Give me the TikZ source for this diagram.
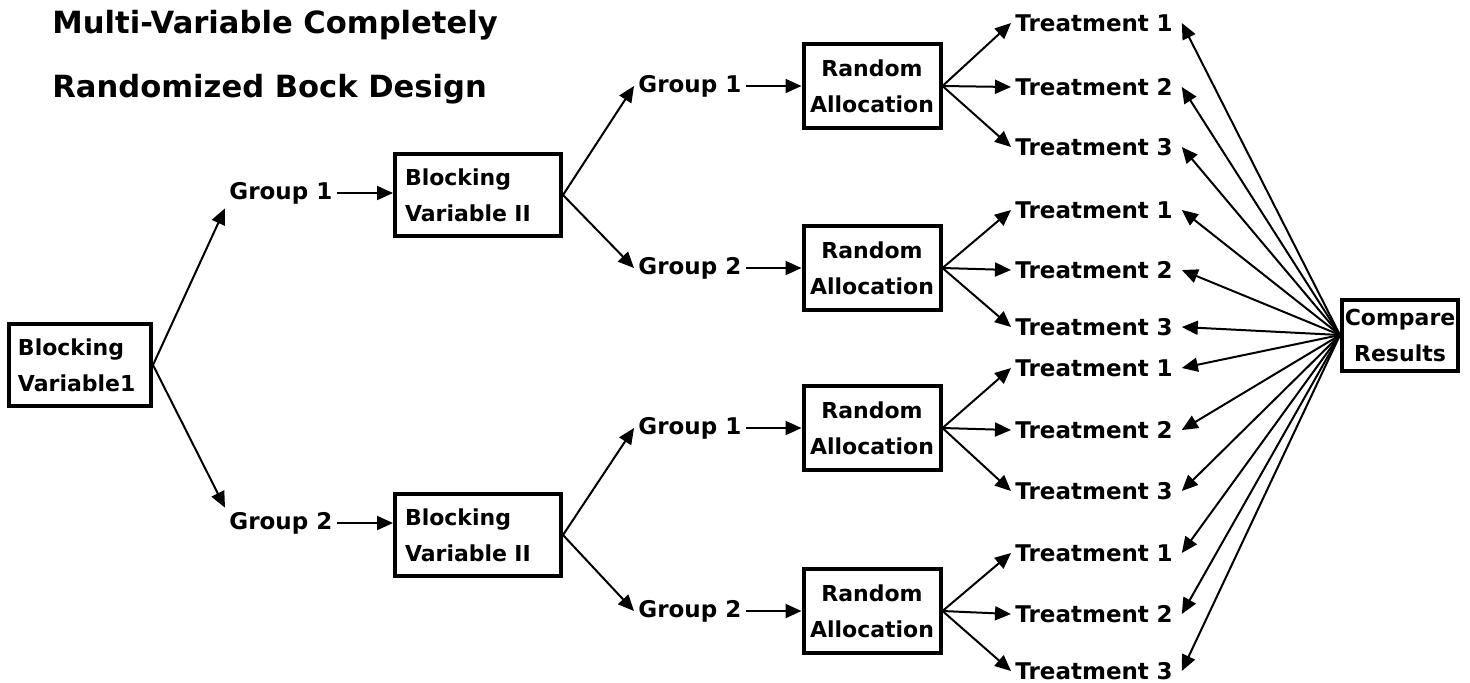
\documentclass[tikz,border=0pt]{standalone}
\usepackage{fontspec}
\setmainfont{DejaVu Sans}
\usepackage{tikz}
\usetikzlibrary{arrows.meta}

\newcommand\lblfont{\fontsize{11.5}{18}\selectfont\bfseries}
\newcommand\boxfont{\fontsize{11}{18}\selectfont\bfseries}
\newcommand\headfont{\fontsize{15.3}{18}\selectfont\bfseries}

\begin{document}
\begin{tikzpicture}[
  x=0.5pt, y=-0.5pt,
  >={Triangle[length=8pt, width=7pt]},
  every node/.style={font=\lblfont},
  head/.style={anchor=base west, inner sep=0pt, font=\headfont},
  blockbox/.style={draw, line width=2pt, align=left, minimum height=41pt,
                   inner ysep=0pt, font=\boxfont},
  randbox/.style={draw, line width=2pt, align=center, minimum width=68.5pt,
                  minimum height=42pt, inner sep=0pt, font=\boxfont},
  grp/.style={anchor=west, inner sep=2pt},
  treat/.style={anchor=west, inner sep=2pt, text width=81pt, align=left},
  link/.style={->, line width=1pt}]
\useasboundingbox (0,0) rectangle (1470,682);

% title
\node[head] (title1) at (52,33) {Multi-Variable Completely};
\node[head] (title2) at (52,97) {Randomized Bock Design};

% first blocking variable and its groups
\node[blockbox, text width=62pt, inner xsep=4.5pt] (bv) at (80,365) {Blocking\\Variable1};
\node[grp] (ga) at (225,193) {Group 1};
\node[grp] (gb) at (225,523) {Group 2};

% second blocking variable
\node[blockbox, text width=73pt, inner xsep=5pt] (bva) at (478,195) {Blocking\\Variable II};
\node[blockbox, text width=73pt, inner xsep=5pt] (bvb) at (478,535) {Blocking\\Variable II};

\node[grp] (gaa) at (634,86) {Group 1};
\node[grp] (gab) at (634,268) {Group 2};
\node[grp] (gba) at (634,428) {Group 1};
\node[grp] (gbb) at (634,611) {Group 2};

% random allocation
\node[randbox] (raa) at (872,86) {Random\\Allocation};
\node[randbox] (rab) at (872,268) {Random\\Allocation};
\node[randbox] (rba) at (872,428) {Random\\Allocation};
\node[randbox] (rbb) at (872,611) {Random\\Allocation};

\node[randbox, minimum width=58pt, minimum height=35.5pt] (cmp) at (1400,335) {Compare\\Results};

\draw[link] (bv.east) -- (ga.south west);
\draw[link] (bv.east) -- (gb.north west);
\draw[link] (ga.east) -- (ga.east -| bva.west);
\draw[link] (gb.east) -- (gb.east -| bvb.west);
\draw[link] (bva.east) -- (gaa.west);
\draw[link] (bva.east) -- (gab.west);
\draw[link] (bvb.east) -- (gba.west);
\draw[link] (bvb.east) -- (gbb.west);
\draw[link] (gaa.east) -- (raa.west);
\draw[link] (gab.east) -- (rab.west);
\draw[link] (gba.east) -- (rba.west);
\draw[link] (gbb.east) -- (rbb.west);

% treatments, fed by each allocation box and read by the comparison
\foreach \ra/\ya/\yb/\yc in {raa/23/87/147, rab/210/270/327, rba/368/430/491, rbb/553/614/671} {
  \node[treat] (\ra-t1) at (1011,\ya) {Treatment 1};
  \node[treat] (\ra-t2) at (1011,\yb) {Treatment 2};
  \node[treat] (\ra-t3) at (1011,\yc) {Treatment 3};
  \foreach \t in {t1,t2,t3} {
    \draw[link] (\ra.east) -- (\ra-\t.west);
    \draw[link] (cmp.west) -- (\ra-\t.east);
  }
}
\end{tikzpicture}
\end{document}
